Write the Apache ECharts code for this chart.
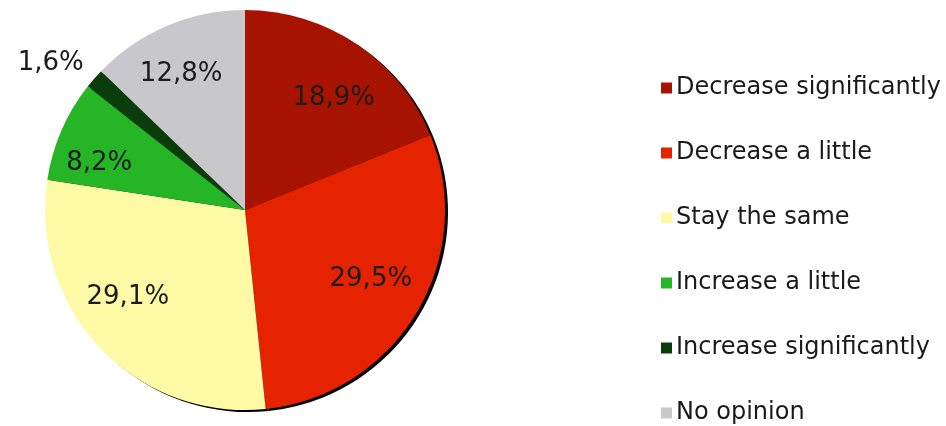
<!DOCTYPE html>
<html>
<head>
<meta charset="utf-8">
<script src="https://cdn.jsdelivr.net/npm/echarts@6/dist/echarts.min.js"></script>
<style>
  html, body { margin: 0; padding: 0; background: #ffffff; }
  #chart { width: 946px; height: 426px; }
</style>
</head>
<body>
<div id="chart"></div>
<script>
// Survey answers, in clockwise order from 12 o'clock
const categories = [
  'Decrease significantly',
  'Decrease a little',
  'Stay the same',
  'Increase a little',
  'Increase significantly',
  'No opinion'
];
const shares = [18.9, 29.5, 29.1, 8.2, 1.6, 12.8];
const colors = ['#a61400', '#e62300', '#fffaa6', '#26b526', '#0b3d0b', '#c8c8cc'];
// Slices whose label sits outside the pie
const outsideLabels = ['Increase significantly'];
// Small hand nudges (px) of each percentage label from its default spot
const labelNudge = [[6, 11], [-1, -7], [-10, -15], [-10, 12], [5, -6], [-6, 0]];

const fmt = v => v.toFixed(1).replace('.', ',') + '%';
const FONT = 'DejaVu Sans, Verdana, sans-serif';
const CENTER = [245, 210];
const R = 200;
const LABEL_FONT = 26;

const baseData = categories.map((name, i) => ({ name, value: shares[i] }));
const nudge = params => ({ dx: labelNudge[params.dataIndex][0], dy: labelNudge[params.dataIndex][1] });

const chart = echarts.init(document.getElementById('chart'), null, { renderer: 'canvas' });

chart.setOption({
  animation: false,
  backgroundColor: '#ffffff',
  color: colors,
  legend: {
    orient: 'vertical',
    left: 661,
    top: 76,
    padding: 0,
    itemGap: 41,
    itemWidth: 11,
    itemHeight: 11,
    icon: 'rect',
    selectedMode: false,
    data: categories,
    textStyle: {
      fontFamily: FONT, fontSize: 24, lineHeight: 24,
      color: '#1a1a1a', padding: [0, 0, 0, -1]
    }
  },
  series: [
    {
      // drop shadow on the lower right rim
      type: 'pie',
      silent: true,
      z: 1,
      center: [CENTER[0] + 3, CENTER[1] + 2],
      radius: [0, R],
      startAngle: 90,
      clockwise: true,
      label: { show: false },
      labelLine: { show: false },
      itemStyle: { color: '#000000', borderWidth: 0 },
      data: baseData.map(d => ({ name: d.name + ' ', value: d.value }))
    },
    {
      type: 'pie',
      z: 2,
      center: CENTER,
      radius: [0, R],
      startAngle: 90,
      clockwise: true,
      avoidLabelOverlap: false,
      itemStyle: { borderWidth: 0 },
      label: { show: false },
      labelLine: { show: false },
      labelLayout: nudge,
      data: baseData.map(d => outsideLabels.includes(d.name)
        ? {
            name: d.name, value: d.value,
            label: {
              show: true, position: 'outside', formatter: p => fmt(p.value),
              fontFamily: FONT, fontSize: LABEL_FONT, color: '#1a1a1a'
            },
            labelLine: { show: false, length: 14, length2: 0 }
          }
        : d)
    },
    {
      // transparent ring carrying the in-slice percentage labels
      type: 'pie',
      silent: true,
      z: 3,
      center: CENTER,
      radius: [0, 290],
      startAngle: 90,
      clockwise: true,
      legendHoverLink: false,
      itemStyle: { color: 'rgba(0,0,0,0)', borderWidth: 0 },
      label: {
        show: true, position: 'inside',
        formatter: p => fmt(p.value),
        fontFamily: FONT, fontSize: LABEL_FONT, color: '#1c1c1c'
      },
      labelLine: { show: false },
      labelLayout: nudge,
      data: baseData.map(d => outsideLabels.includes(d.name)
        ? { name: d.name + '  ', value: d.value, label: { show: false } }
        : { name: d.name + '  ', value: d.value })
    }
  ]
});
</script>
</body>
</html>
